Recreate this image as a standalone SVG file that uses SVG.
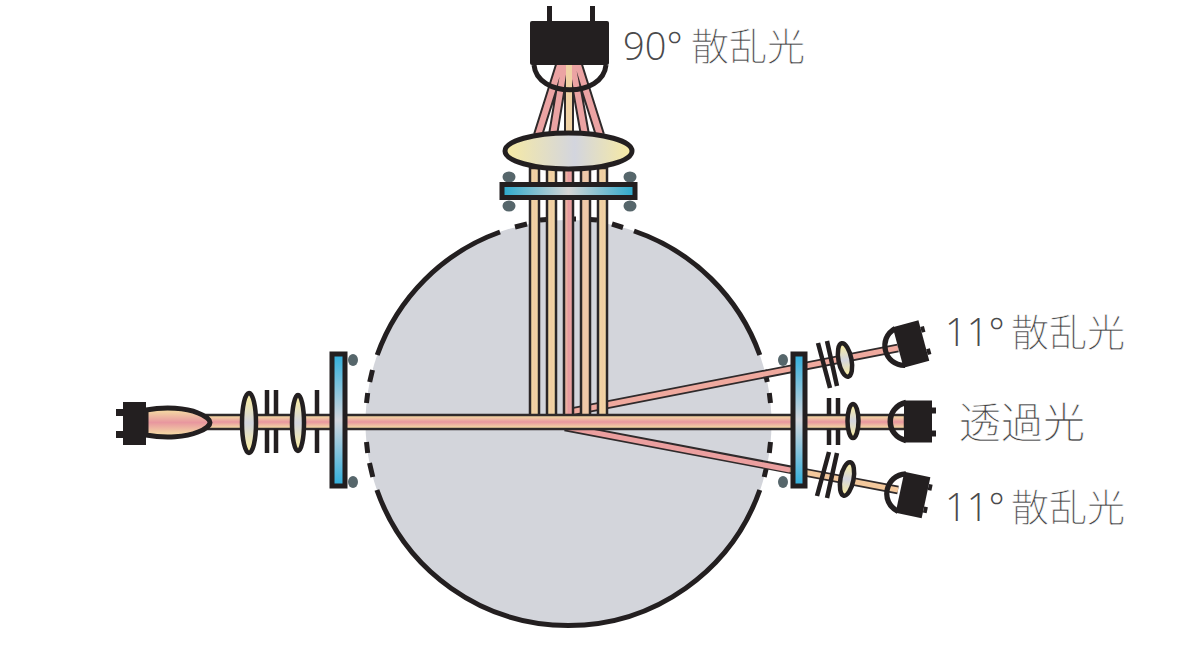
<svg xmlns="http://www.w3.org/2000/svg" width="1196" height="646" viewBox="0 0 1196 646">
<style>
.k{fill:#231f20}
.ks{fill:none;stroke:#231f20;stroke-width:5}
.da{fill:none;stroke:#231f20;stroke-width:5.500}
.ap{stroke:#231f20;stroke-width:4.500;fill:none}
.dot{fill:#56666b}
.lens{fill:url(#lensV);stroke:#231f20;stroke-width:4.500}
.win{stroke:#231f20;stroke-width:5}
.bd{fill:none;stroke:#2f2a2b;stroke-width:10}
.t{font-family:"Open Sans","Noto Sans CJK JP",sans-serif;font-weight:300;font-size:38px;fill:#4a4a4c}
.c{fill:#3f3f41;stroke:#fff;stroke-width:.55}
.vb{fill:url(#vb);stroke:#2b2627;stroke-width:2.500}
</style>
<defs>
<linearGradient id="beamH" x1="0" y1="0" x2="0" y2="1"><stop offset=".12" stop-color="#f3d3a3"/><stop offset=".5" stop-color="#e8979f"/><stop offset=".88" stop-color="#f3d3a3"/></linearGradient>
<linearGradient id="lensV" x1="0" y1="0" x2="0" y2="1"><stop offset=".1" stop-color="#f5eaa8"/><stop offset=".5" stop-color="#d3d5de"/><stop offset=".9" stop-color="#f5eaa8"/></linearGradient>
<linearGradient id="lensH" x1="0" y1="0" x2="1" y2="0"><stop offset=".03" stop-color="#f5e9a6"/><stop offset=".55" stop-color="#d3d5de"/><stop offset=".97" stop-color="#f5e9a6"/></linearGradient>
<linearGradient id="winH" x1="0" y1="0" x2="1" y2="0"><stop offset="0" stop-color="#2aa9cc"/><stop offset=".5" stop-color="#d5d5d5"/><stop offset="1" stop-color="#2aa9cc"/></linearGradient>
<linearGradient id="winV" x1="0" y1="0" x2="0" y2="1"><stop offset="0" stop-color="#2faedb"/><stop offset=".5" stop-color="#d3d6dd"/><stop offset="1" stop-color="#2faedb"/></linearGradient>
<linearGradient id="vb" x1="0" y1="0" x2="1" y2="0"><stop offset="0" stop-color="#f4dca6"/><stop offset=".5" stop-color="#f0cda2"/><stop offset="1" stop-color="#f4dca6"/></linearGradient>
<linearGradient id="vbp" x1="0" y1="0" x2="1" y2="0"><stop offset="0" stop-color="#f0c8a4"/><stop offset=".5" stop-color="#e89a9f"/><stop offset="1" stop-color="#eaa8a2"/></linearGradient>
<g id="det"><rect x="-14" y="-21" width="28" height="42" class="k"/><rect x="14" y="-14" width="4" height="6" class="k"/><rect x="14" y="9" width="4" height="6" class="k"/><path d="M-12 -19C-33 -14 -33 14 -12 19" class="da"/></g>
</defs>
<g id="chamber">
<circle cx="568.5" cy="423" r="203" fill="#d3d5db"/>
<path class="ks" d="M377.2 355A203 203 0 0 1 500 232M634 231A203 203 0 0 1 759.8 355M759.8 490A203 203 0 0 1 376.9 490"/>
<path class="ks" d="M372.5 370L369.7 382M367.7 393L366.5 403M366.5 442L367.7 453M369.5 463L372.8 477M764.5 370L767.3 382M769.3 393L770.5 403M770.5 442L769.3 453M767.5 463L764.2 477M515 227L527 224M612 224L623 227.5M540 220L547 219.5M569 219L576 219M590 219.5L597 220"/>
</g>
<g id="connectors">
<g id="fan">
<path class="bd" d="M538 135L561 62M553 135L565 62M569 135V62M585 135L572 62M600 135L577 62"/>
<path fill="none" stroke="#eba3a3" stroke-width="6" d="M538 135L561 62M553 135L565 62M585 135L572 62M600 135L577 62"/>
<path fill="none" stroke="#f0d2a4" stroke-width="6" d="M569 135V62"/>
</g>
<path id="beam-up" d="M565 413L898 348" class="bd" style="stroke-width:8.500"/>
<path d="M565 413L898 348" fill="none" stroke="#efa99e" stroke-width="5"/>
<path id="beam-low" d="M565 427L898 490" class="bd" style="stroke-width:8.500"/>
<path d="M565 427L790 470" fill="none" stroke="#eb9f9f" stroke-width="5"/>
<path d="M790 469.500L898 490" fill="none" stroke="#f3c89c" stroke-width="5"/>
<g id="beams-v">
<rect x="530" y="168" width="9" height="248" class="vb"/>
<rect x="547" y="168" width="9" height="248" class="vb"/>
<rect x="564" y="168" width="9" height="248" fill="url(#vbp)" stroke="#2b2627" stroke-width="2.500"/>
<rect x="581" y="168" width="9" height="248" fill="#efc8a8" stroke="#2b2627" stroke-width="2.500"/>
<rect x="598" y="168" width="9" height="248" class="vb"/>
</g>
<rect id="beam-main" x="205" y="415" width="700" height="14" fill="url(#beamH)" stroke="#2f2a2b" stroke-width="2.500"/>
</g>
<g id="source">
<rect x="123" y="402" width="23" height="43" class="k"/><rect x="116" y="409" width="8" height="7" class="k"/><rect x="116" y="431" width="8" height="7" class="k"/>
<path d="M146 410C166 406.500 186 408 198 413C206 416 210 420 210 422.500C210 425 206 429 198 432C186 437 166 438.500 146 435Z" fill="url(#beamH)" stroke="#231f20" stroke-width="5"/>
</g>
<g id="optics-left">
<path class="ap" d="M267 390V415M276 390V415M267 429V453M276 429V453M317 390V415M317 429V453"/>
<ellipse cx="249" cy="423" rx="7" ry="30" class="lens"/>
<ellipse cx="298" cy="423" rx="6" ry="28" class="lens"/>
</g>
<g id="window-left">
<rect x="332" y="354" width="13" height="132" fill="url(#winV)" class="win"/>
<ellipse cx="353" cy="360" rx="5" ry="6" class="dot"/><ellipse cx="353" cy="482" rx="5" ry="6" class="dot"/>
</g>
<g id="window-right">
<rect x="793" y="354" width="12" height="132" fill="url(#winV)" class="win"/>
<ellipse cx="783" cy="360" rx="5" ry="6" class="dot"/><ellipse cx="783" cy="482" rx="5" ry="6" class="dot"/>
</g>
<g id="optics-right">
<path class="ap" d="M829 398V415M838 398V415M829 429V445M838 429V445"/>
<ellipse cx="853" cy="421" rx="5.500" ry="17" class="lens"/>
<path class="ap" d="M818 343L830 388M827 341L837 386"/>
<ellipse cx="845" cy="360" rx="6.500" ry="17" class="lens" transform="rotate(-11 845 360)"/>
<path class="ap" d="M829 452L817 496M837 453L827 498"/>
<ellipse cx="847" cy="479" rx="6.500" ry="17" class="lens" transform="rotate(11 847 479)"/>
</g>
<g id="detector-main"><use href="#det" transform="translate(918 421.500)"/></g>
<g id="detector-up"><use href="#det" transform="translate(911 344) rotate(-15) scale(.95 1)"/></g>
<g id="detector-low"><use href="#det" transform="translate(913 495) rotate(12) scale(.95 1)"/></g>
<g id="lens-top">
<ellipse cx="568.5" cy="151" rx="63.500" ry="18" fill="url(#lensH)" stroke="#231f20" stroke-width="5"/>
</g>
<g id="window-top">
<ellipse cx="509" cy="177" rx="6.500" ry="5.500" class="dot"/><ellipse cx="630" cy="177" rx="6.500" ry="5.500" class="dot"/><ellipse cx="509" cy="206" rx="6.500" ry="5.500" class="dot"/><ellipse cx="630" cy="206" rx="6.500" ry="5.500" class="dot"/>
<rect x="502" y="184.500" width="133" height="13" fill="url(#winH)" class="win"/>
</g>
<g id="detector-top">
<rect x="547" y="6" width="5" height="16" class="k"/><rect x="590" y="6" width="5" height="16" class="k"/>
<path d="M534 65C537 98 603 98 606 65" class="ks"/>
<rect x="530" y="21" width="79" height="44" rx="2" class="k"/>
</g>
<g id="labels">
<text y="60" class="t"><tspan x="623">90° </tspan><tspan x="691" class="c">散乱光</tspan></text>
<text y="346" class="t"><tspan x="945">11° </tspan><tspan x="1011" class="c">散乱光</tspan></text>
<text x="959" y="438" class="t c" style="font-size:42px">透過光</text>
<text y="521" class="t"><tspan x="945">11° </tspan><tspan x="1011" class="c">散乱光</tspan></text>
</g>
</svg>
